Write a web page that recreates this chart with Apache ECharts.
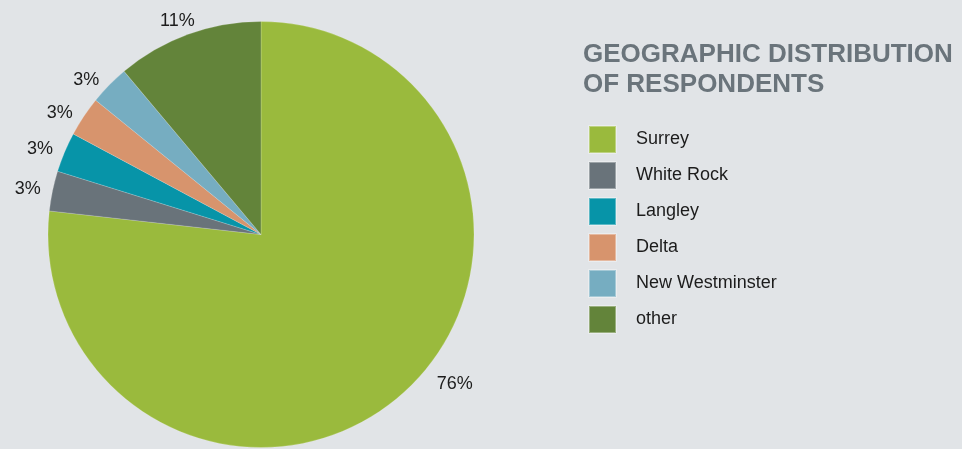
<!DOCTYPE html>
<html>
<head>
<meta charset="utf-8">
<script src="https://cdn.jsdelivr.net/npm/echarts@6/dist/echarts.min.js"></script>
<style>
  html, body { margin: 0; padding: 0; background: #e1e4e7; }
  #geoChart { width: 962px; height: 449px; }
</style>
</head>
<body>
<div id="geoChart"></div>
<script>
// regions and their share of respondents (%)
var regions = ['Surrey', 'White Rock', 'Langley', 'Delta', 'New Westminster', 'other'];
var shares = [76, 3, 3, 3, 3, 11];
var colors = ['#9aba3d', '#69737a', '#0794a8', '#d7946d', '#76adc1', '#63843a'];

var myChart = echarts.init(document.getElementById('geoChart'));

var pieData = regions.map(function (name, i) {
  var item = { name: name, value: shares[i], itemStyle: { color: colors[i] } };
  // nudge a couple of labels like the original artwork
  if (name === 'Surrey') item.label = { offset: [24, -14] };
  if (name === 'other') item.label = { offset: [14, -7] };
  return item;
});

myChart.setOption({
  backgroundColor: '#e1e4e7',
  animation: false,
  title: {
    text: 'GEOGRAPHIC DISTRIBUTION\nOF RESPONDENTS',
    left: 583,
    top: 40,
    padding: 0,
    textStyle: {
      fontFamily: 'Liberation Sans',
      fontWeight: 'bold',
      fontSize: 26,
      lineHeight: 30,
      color: '#6a747b'
    }
  },
  // legend on the right, square markers
  legend: {
    orient: 'vertical',
    left: 588,
    top: 125,
    padding: 0,
    icon: 'rect',
    itemWidth: 27,
    itemHeight: 27,
    itemGap: 7,
    selectedMode: false,
    data: regions,
    textStyle: {
      fontFamily: 'Liberation Sans',
      fontSize: 18,
      color: '#1c1c1c',
      padding: [0, 0, 0, 15]
    }
  },
  series: [{
    type: 'pie',
    center: [261, 234.5],
    radius: [0, 213],
    startAngle: 90,
    clockwise: true,
    avoidLabelOverlap: false,
    itemStyle: {
      borderColor: 'rgba(255,255,255,0.35)',
      borderWidth: 0.5
    },
    label: {
      show: true,
      position: 'outside',
      formatter: '{c}%',
      fontFamily: 'Liberation Sans',
      fontSize: 18,
      color: '#1c1c1c'
    },
    labelLine: { show: false, length: 7, length2: 0 },
    emphasis: { disabled: true },
    data: pieData
  }]
});
</script>
</body>
</html>
